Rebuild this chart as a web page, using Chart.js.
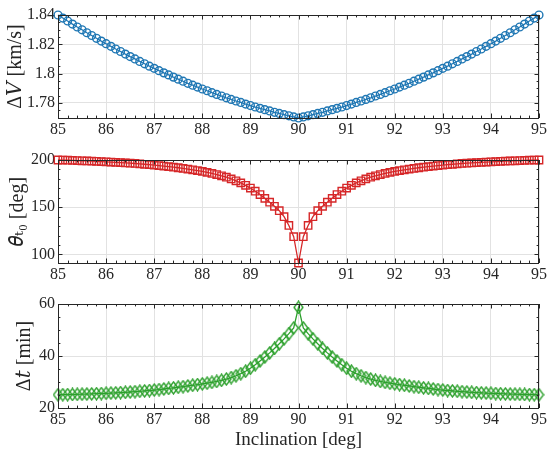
<!DOCTYPE html>
<html>
<head>
<meta charset="utf-8">
<script src="https://cdn.jsdelivr.net/npm/chart.js@4.4.1/dist/chart.umd.min.js"></script>
<style>
  html, body { margin: 0; padding: 0; background: #ffffff; }
  .panel { position: absolute; left: 0; width: 550px; }
</style>
</head>
<body>
<div class="panel" style="top:0px;height:145px;"><canvas id="c1"></canvas></div>
<div class="panel" style="top:145px;height:145px;"><canvas id="c2"></canvas></div>
<div class="panel" style="top:290px;height:164px;"><canvas id="c3"></canvas></div>
<script>
// ---------------- data ----------------
const inclination = [
  85.0, 85.1, 85.2, 85.3, 85.4, 85.5, 85.6, 85.7, 85.8, 85.9,
  86.0, 86.1, 86.2, 86.3, 86.4, 86.5, 86.6, 86.7, 86.8, 86.9,
  87.0, 87.1, 87.2, 87.3, 87.4, 87.5, 87.6, 87.7, 87.8, 87.9,
  88.0, 88.1, 88.2, 88.3, 88.4, 88.5, 88.6, 88.7, 88.8, 88.9,
  89.0, 89.1, 89.2, 89.3, 89.4, 89.5, 89.6, 89.7, 89.8, 89.9,
  90.0,
  90.1, 90.2, 90.3, 90.4, 90.5, 90.6, 90.7, 90.8, 90.9, 91.0,
  91.1, 91.2, 91.3, 91.4, 91.5, 91.6, 91.7, 91.8, 91.9, 92.0,
  92.1, 92.2, 92.3, 92.4, 92.5, 92.6, 92.7, 92.8, 92.9, 93.0,
  93.1, 93.2, 93.3, 93.4, 93.5, 93.6, 93.7, 93.8, 93.9, 94.0,
  94.1, 94.2, 94.3, 94.4, 94.5, 94.6, 94.7, 94.8, 94.9, 95.0
];

const deltaV = [
  1.8400, 1.8379, 1.8359, 1.8338, 1.8318, 1.8299, 1.8279, 1.8260, 1.8241, 1.8222,
  1.8204, 1.8186, 1.8168, 1.8151, 1.8133, 1.8116, 1.8100, 1.8083, 1.8067, 1.8051,
  1.8036, 1.8020, 1.8005, 1.7991, 1.7976, 1.7962, 1.7948, 1.7934, 1.7921, 1.7908,
  1.7895, 1.7883, 1.7870, 1.7858, 1.7847, 1.7835, 1.7824, 1.7813, 1.7803, 1.7792,
  1.7782, 1.7772, 1.7763, 1.7754, 1.7745, 1.7736, 1.7728, 1.7720, 1.7712, 1.7704,
  1.7697,
  1.7704, 1.7712, 1.7720, 1.7728, 1.7736, 1.7745, 1.7754, 1.7763, 1.7772, 1.7782,
  1.7792, 1.7803, 1.7813, 1.7824, 1.7835, 1.7847, 1.7858, 1.7870, 1.7883, 1.7895,
  1.7908, 1.7921, 1.7934, 1.7948, 1.7962, 1.7976, 1.7991, 1.8005, 1.8020, 1.8036,
  1.8051, 1.8067, 1.8083, 1.8100, 1.8116, 1.8133, 1.8151, 1.8168, 1.8186, 1.8204,
  1.8222, 1.8241, 1.8260, 1.8279, 1.8299, 1.8318, 1.8338, 1.8359, 1.8379, 1.8400
];

const thetaT0 = [
  200.0, 199.9, 199.75, 199.6, 199.4, 199.2, 199.0, 198.8, 198.6, 198.3,
  198.1, 197.8, 197.5, 197.2, 196.9, 196.6, 196.3, 195.9, 195.5, 195.1,
  194.6, 194.1, 193.6, 193.0, 192.4, 191.8, 191.1, 190.4, 189.6, 188.8,
  187.9, 186.9, 185.8, 184.6, 183.3, 181.8, 180.0, 178.0, 175.8, 173.2,
  170.3, 167.0, 163.4, 159.4, 155.3, 151.0, 146.4, 140.0, 130.7, 118.8,
  91.0,
  118.8, 130.7, 140.0, 146.4, 151.0, 155.3, 159.4, 163.4, 167.0, 170.3,
  173.2, 175.8, 178.0, 180.0, 181.8, 183.3, 184.6, 185.8, 186.9, 187.9,
  188.8, 189.6, 190.4, 191.1, 191.8, 192.4, 193.0, 193.6, 194.1, 194.6,
  195.1, 195.5, 195.9, 196.3, 196.6, 196.9, 197.2, 197.5, 197.8, 198.1,
  198.3, 198.6, 198.8, 199.0, 199.2, 199.4, 199.6, 199.75, 199.9, 200.0
];

const deltaT = [
  25.1, 25.13, 25.16, 25.2, 25.25, 25.3, 25.36, 25.43, 25.5, 25.57,
  25.65, 25.73, 25.82, 25.92, 26.03, 26.15, 26.28, 26.42, 26.57, 26.73,
  26.9, 27.1, 27.31, 27.53, 27.75, 27.98, 28.22, 28.47, 28.73, 29.0,
  29.28, 29.54, 29.84, 30.21, 30.64, 31.14, 31.72, 32.4, 33.2, 34.15,
  35.3, 36.65, 38.1, 39.6, 41.2, 42.9, 44.7, 46.6, 48.6, 50.8,
  58.7,
  50.8, 48.6, 46.6, 44.7, 42.9, 41.2, 39.6, 38.1, 36.65, 35.3,
  34.15, 33.2, 32.4, 31.72, 31.14, 30.64, 30.21, 29.84, 29.54, 29.28,
  29.0, 28.73, 28.47, 28.22, 27.98, 27.75, 27.53, 27.31, 27.1, 26.9,
  26.73, 26.57, 26.42, 26.28, 26.15, 26.03, 25.92, 25.82, 25.73, 25.65,
  25.57, 25.5, 25.43, 25.36, 25.3, 25.25, 25.2, 25.16, 25.13, 25.1
];

const xTicks = [85, 86, 87, 88, 89, 90, 91, 92, 93, 94, 95];
const xTickLabels = ['85', '86', '87', '88', '89', '90', '91', '92', '93', '94', '95'];
const yTicksV = [1.78, 1.80, 1.82, 1.84];
const yTickLabelsV = ['1.78', '1.8', '1.82', '1.84'];
const yTicksTheta = [100, 150, 200];
const yTickLabelsTheta = ['100', '150', '200'];
const yTicksT = [20, 40, 60];
const yTickLabelsT = ['20', '40', '60'];

const xTitle = 'Inclination [deg]';
const yTitleV = 'Δ𝑉 [km/s]';
const yTitleTheta = '𝜃ₜ₀ [deg]';
const yTitleT = 'Δ𝑡 [min]';

// ---------------- styling ----------------
const FONT = "'Liberation Serif', 'DejaVu Serif', serif";
const AXIS = '#262626';
const GRID = '#e2e2e2';
const BLUE = '#1f77b4';
const RED = '#d62728';
const GREEN = '#2ca02c';

function diamondImage(color) {
  const c = document.createElement('canvas');
  c.width = 11; c.height = 14;
  const g = c.getContext('2d');
  g.strokeStyle = color; g.lineWidth = 1.35;
  g.beginPath();
  g.moveTo(5.5, 1); g.lineTo(10, 7); g.lineTo(5.5, 13); g.lineTo(1, 7); g.closePath();
  g.stroke();
  return c;
}

const boxPlugin = {
  id: 'boxTicks',
  afterDatasetsDraw(chart, args, opts) {
    const { ctx, chartArea: a } = chart;
    const xs = chart.scales.x, ys = chart.scales.y;
    ctx.save();
    ctx.strokeStyle = AXIS;
    ctx.lineWidth = 1;
    ctx.beginPath();
    const majL = 4.5, minL = 2.4;
    const vtick = (v, len) => {
      const p = Math.round(xs.getPixelForValue(v)) + 0.5;
      ctx.moveTo(p, a.bottom); ctx.lineTo(p, a.bottom - len);
      ctx.moveTo(p, a.top); ctx.lineTo(p, a.top + len);
    };
    const htick = (v, len) => {
      const p = Math.round(ys.getPixelForValue(v)) + 0.5;
      ctx.moveTo(a.left, p); ctx.lineTo(a.left + len, p);
      ctx.moveTo(a.right, p); ctx.lineTo(a.right - len, p);
    };
    for (let k = 0; k <= 50; k++) {
      const v = 85 + k * 0.2;
      vtick(v, k % 5 === 0 ? majL : minL);
    }
    const step = opts.yMinor, base = opts.yBase;
    for (let k = -200; k <= 200; k++) {
      const v = base + k * step;
      if (v < ys.min - 1e-9 || v > ys.max + 1e-9) continue;
      const isMaj = (((k % opts.yMajEvery) + opts.yMajEvery) % opts.yMajEvery) === 0;
      htick(v, isMaj ? majL : minL);
    }
    ctx.stroke();
    ctx.strokeRect(Math.round(a.left) + 0.5, Math.round(a.top) + 0.5,
                   Math.round(a.right) - Math.round(a.left) - 1, Math.round(a.bottom) - Math.round(a.top));
    ctx.restore();
  }
};

function xScale(height, withTitle) {
  return {
    type: 'linear', min: 85, max: 95,
    afterBuildTicks: s => { s.ticks = xTicks.map(v => ({ value: v })); },
    afterFit: s => { s.height = height; },
    ticks: {
      callback: (v, i) => xTickLabels[i],
      font: { family: FONT, size: 16 }, color: AXIS, padding: 2,
      maxRotation: 0, autoSkip: false
    },
    grid: { color: GRID, drawTicks: false, lineWidth: 1 },
    border: { display: false },
    title: {
      display: withTitle, text: xTitle,
      font: { family: FONT, size: 19 }, color: AXIS,
      padding: { top: 0, bottom: 3 }
    }
  };
}

function yScale(min, max, ticks, labels, title, titlePad) {
  return {
    type: 'linear', min: min, max: max,
    afterBuildTicks: s => { s.ticks = ticks.map(v => ({ value: v })); },
    afterFit: s => { s.width = 58; },
    ticks: {
      callback: (v, i) => labels[i],
      font: { family: FONT, size: 16 }, color: AXIS, padding: 3, autoSkip: false
    },
    grid: { color: GRID, drawTicks: false, lineWidth: 1 },
    border: { display: false },
    title: {
      display: true, text: title,
      font: { family: FONT, size: 20 }, color: AXIS,
      padding: { top: titlePad, bottom: 0 }
    }
  };
}

function makeChart(id, values, color, style, radius, ymin, ymax, yt, ytl, ytitle, tpad, xh, xtitle, padTop, minor) {
  const pts = inclination.map((x, i) => ({ x: x, y: values[i] }));
  return new Chart(document.getElementById(id), {
    type: 'line',
    data: {
      datasets: [{
        data: pts,
        borderColor: color,
        borderWidth: 1.3,
        backgroundColor: 'rgba(0,0,0,0)',
        pointStyle: style,
        pointRadius: radius,
        pointHoverRadius: radius,
        pointBorderColor: color,
        pointBackgroundColor: 'rgba(0,0,0,0)',
        pointBorderWidth: 1.4,
        tension: 0,
        clip: false
      }]
    },
    options: {
      responsive: true,
      maintainAspectRatio: false,
      animation: false,
      events: [],
      layout: { padding: { left: 0, right: 11, top: padTop, bottom: 0 } },
      plugins: { legend: { display: false }, tooltip: { enabled: false }, boxTicks: minor },
      scales: {
        x: xScale(xh, xtitle),
        y: yScale(ymin, ymax, yt, ytl, ytitle, tpad)
      }
    },
    plugins: [boxPlugin]
  });
}

makeChart('c1', deltaV, BLUE, 'circle', 3.9, 1.7697, 1.84, yTicksV, yTickLabelsV, yTitleV, 4, 27, false, 15,
  { yMinor: 0.005, yBase: 1.78, yMajEvery: 4 });
makeChart('c2', thetaT0, RED, 'rect', 5.2, 91, 200, yTicksTheta, yTickLabelsTheta, yTitleTheta, 6, 27, false, 15,
  { yMinor: 10, yBase: 100, yMajEvery: 5 });
makeChart('c3', deltaT, GREEN, diamondImage(GREEN), 5, 20, 60, yTicksT, yTickLabelsT, yTitleT, 13, 46, true, 14,
  { yMinor: 5, yBase: 20, yMajEvery: 4 });
</script>
</body>
</html>
